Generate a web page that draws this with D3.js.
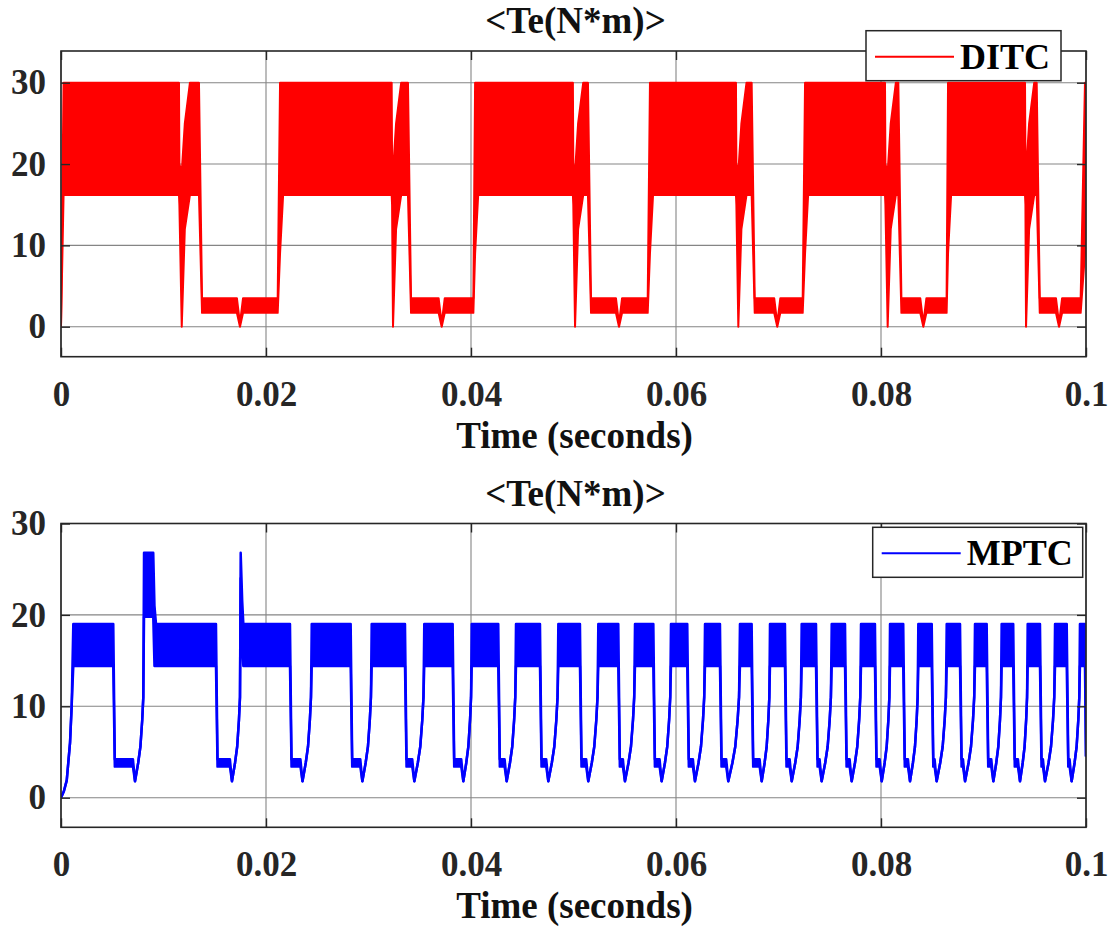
<!DOCTYPE html>
<html><head><meta charset="utf-8">
<script src="https://cdn.jsdelivr.net/npm/d3@7"></script>
<style>
body{margin:0;background:#fff;}
svg{display:block;font-family:"Liberation Serif","Times New Roman",serif;font-weight:bold;}
svg text{font-family:"Liberation Serif","Times New Roman",serif !important;font-weight:bold;}
</style></head><body>
<svg id="chart" width="1112" height="933"></svg>
<script>
// ---------- tick data ----------
const xTicks = [0, 0.02, 0.04, 0.06, 0.08, 0.1];
const xTickLabels = ["0", "0.02", "0.04", "0.06", "0.08", "0.1"];
const yTicks = [0, 10, 20, 30];
const yTickLabels = ["0", "10", "20", "30"];
const titles = ["<Te(N*m)>", "<Te(N*m)>"];
const xLabel = "Time (seconds)";
const seriesNames = ["DITC", "MPTC"];

// ---------- DITC (top) ----------
const ditcBandStart = [0.00000, 0.02137, 0.04040, 0.05746, 0.07259, 0.08654, 0.09990];
const ditcBandEnd   = [0.01151, 0.03226, 0.04994, 0.06585, 0.08039, 0.09405];
const ditcSpike     = [0.01178, 0.03239, 0.05015, 0.06608, 0.08065, 0.09415];
const ditcHumpEnd   = [0.01346, 0.03385, 0.05141, 0.06738, 0.08169, 0.09519];
const ditcLowDip    = [0.01746, 0.03714, 0.05444, 0.06988, 0.08413, 0.09737];
const ditcLowEnd    = [0.02114, 0.04023, 0.05724, 0.07236, 0.08640, 0.09948];
const ditcBandLevels = [16.2, 30];
const ditcNotchLevel = [20];
const ditcLowLevels  = [1.7, 3.5];

// ---------- MPTC (bottom) ----------
const mptcStartT = [0, 0.00028, 0.00056, 0.00088, 0.00104];
const mptcStartV = [0, 0.7, 1.9, 6, 10];
const mptcBandStart = [0.00120, 0.00927, 0.01779, 0.02446, 0.03031, 0.03544, 0.04007, 0.04439, 0.04852,
  0.05242, 0.05600, 0.05951, 0.06283, 0.06624, 0.06917, 0.07226, 0.07519, 0.07805, 0.08088, 0.08364,
  0.08641, 0.08917, 0.09177, 0.09431, 0.09698, 0.09941];
const mptcBandEnd = [0.00510, 0.01512, 0.02234, 0.02826, 0.03356, 0.03821, 0.04266, 0.04673, 0.05063,
  0.05437, 0.05779, 0.06110, 0.06429, 0.06738, 0.07063, 0.07366, 0.07649, 0.07941, 0.08217, 0.08495,
  0.08771, 0.09031, 0.09290, 0.09551, 0.09812, 0.09990];
const mptcDip = [0.00722, 0.01668, 0.02356, 0.02940, 0.03447, 0.03925, 0.04348, 0.04754, 0.05144,
  0.05502, 0.05860, 0.06185, 0.06510, 0.06836, 0.07129, 0.07421, 0.07714, 0.08007, 0.08283, 0.08543,
  0.08820, 0.09096, 0.09356, 0.09600, 0.09860];
const mptcPeakStart = [0.00810, 0.01753];
const mptcPeakEnd   = [0.00900, 0.01753];
const mptcPeakHigh  = [26.8, 26.8];
const mptcPeakLow   = [19.8, 24.0];
const mptcBandLevels = [14.4, 19.0];
const mptcStepLevels = [3.4, 4.2];
const mptcDipLevel = [1.8];
const mptcRiseFrac = [0.35, 0.6, 0.8, 0.92];
const mptcRiseVal  = [3.8, 5.6, 8.5, 11];
const mptcEndValue = [4.5];

// ---------- build envelopes [t, low, high] ----------
function buildDitc() {
  const [bl, bh] = ditcBandLevels, [ll, lh] = ditcLowLevels, nt = ditcNotchLevel[0];
  const p = [[0, 0, 0], [0.00025, bl, bh]];
  for (let i = 0; i < ditcBandEnd.length; i++) {
    if (i > 0) {
      p.push([ditcLowEnd[i - 1], ll, lh]);
      p.push([ditcBandStart[i], 9, bh]);
      p.push([ditcBandStart[i] + 0.0003, bl, bh]);
    }
    p.push([ditcBandEnd[i], bl, bh]);
    p.push([ditcBandEnd[i] + 0.00004, 15, nt]);
    p.push([ditcSpike[i], 0, nt - 1]);
    p.push([ditcSpike[i] + 0.0003, 12, 25]);
    p.push([ditcSpike[i] + 0.0008, bl, bh]);
    p.push([ditcHumpEnd[i], bl, bh]);
    p.push([ditcHumpEnd[i] + 0.0003, ll, lh]);
    p.push([ditcLowDip[i] - 0.0003, ll, lh]);
    p.push([ditcLowDip[i], 0, 0.4]);
    p.push([ditcLowDip[i] + 0.0003, ll, lh]);
  }
  p.push([ditcLowEnd[ditcLowEnd.length - 1], ll, lh]);
  p.push([ditcBandStart[ditcBandStart.length - 1], 9, bh]);
  p.push([0.1, 14, bh]);
  return p;
}

function buildMptc() {
  const [bl, bh] = mptcBandLevels, [sl, sh] = mptcStepLevels, dv = mptcDipLevel[0];
  const p = mptcStartT.map((t, i) => [t, mptcStartV[i], mptcStartV[i]]);
  for (let i = 0; i < mptcBandStart.length; i++) {
    p.push([mptcBandStart[i], bl, bh]);
    p.push([mptcBandEnd[i], bl, bh]);
    if (i < mptcDip.length) {
      const d = mptcDip[i];
      p.push([mptcBandEnd[i] + 0.00015, sl, sh]);
      p.push([d - 0.0002, sl, sh]);
      p.push([d, dv, dv]);
      const target = i < mptcPeakStart.length ? mptcPeakStart[i] : mptcBandStart[i + 1];
      const r = target - d;
      mptcRiseFrac.forEach((f, k) => p.push([d + r * f, mptcRiseVal[k], mptcRiseVal[k]]));
      if (i < mptcPeakStart.length) {
        if (mptcPeakEnd[i] > mptcPeakStart[i]) {
          p.push([mptcPeakStart[i], mptcPeakLow[i], mptcPeakHigh[i]]);
          p.push([mptcPeakEnd[i], mptcPeakLow[i], mptcPeakHigh[i]]);
          p.push([mptcPeakEnd[i] + 0.00012, bl, 21]);
        } else {
          p.push([mptcPeakStart[i], mptcPeakLow[i], mptcPeakHigh[i]]);
          p.push([mptcPeakStart[i] + 0.00015, 16, 21.5]);
        }
      }
    }
  }
  p.push([0.1, mptcEndValue[0], mptcEndValue[0]]);
  return p;
}

// ---------- layout ----------
const svg = d3.select("#chart");
const FONT = '"Liberation Serif","Times New Roman",serif';
const X0 = 61, X1 = 1086;
const panels = [
  { top: 51, bottom: 356.7, domain: [-3.69, 33.9], color: "#ff0000", lw: 2, data: buildDitc(), name: seriesNames[0], title: titles[0],
    legend: { x: 866, y: 30.7, w: 195, h: 50 } },
  { top: 523.5, bottom: 827.3, domain: [-3.24, 30], color: "#0000ff", lw: 2.5, data: buildMptc(), name: seriesNames[1], title: titles[1],
    legend: { x: 872.7, y: 527.3, w: 210, h: 50 } }
];

const x = d3.scaleLinear().domain([0, 0.1]).range([X0, X1]);

panels.forEach((P, idx) => {
  const y = d3.scaleLinear().domain(P.domain).range([P.bottom, P.top]);
  const g = svg.append("g");
  const clipId = "clip" + idx;
  svg.append("clipPath").attr("id", clipId).append("rect")
    .attr("x", X0).attr("y", P.top).attr("width", X1 - X0).attr("height", P.bottom - P.top);

  // grid
  g.append("g").selectAll("line").data(xTicks).join("line")
    .attr("x1", d => x(d)).attr("x2", d => x(d)).attr("y1", P.top).attr("y2", P.bottom)
    .attr("stroke", "#858585").attr("stroke-width", 1.1);
  g.append("g").selectAll("line").data(yTicks).join("line")
    .attr("y1", d => y(d)).attr("y2", d => y(d)).attr("x1", X0).attr("x2", X1)
    .attr("stroke", "#858585").attr("stroke-width", 1.1);

  // data
  const dg = g.append("g").attr("clip-path", `url(#${clipId})`);
  const area = d3.area().x(d => x(d[0])).y0(d => y(d[1])).y1(d => y(d[2]));
  dg.append("path").datum(P.data).attr("d", area).attr("fill", P.color);
  const lo = d3.line().x(d => x(d[0])).y(d => y(d[1]));
  const hi = d3.line().x(d => x(d[0])).y(d => y(d[2]));
  [lo, hi].forEach(l => dg.append("path").datum(P.data).attr("d", l)
    .attr("fill", "none").attr("stroke", P.color).attr("stroke-width", P.lw).attr("stroke-linejoin", "round"));

  // frame
  g.append("rect").attr("x", X0).attr("y", P.top).attr("width", X1 - X0).attr("height", P.bottom - P.top)
    .attr("fill", "none").attr("stroke", "#262626").attr("stroke-width", 1.6);

  // axes ticks (inside) + labels
  const ax = d3.axisBottom(x).tickValues(xTicks).tickFormat((d, i) => xTickLabels[i]).tickSize(-9).tickPadding(24);
  const ay = d3.axisLeft(y).tickValues(yTicks).tickFormat((d, i) => yTickLabels[i]).tickSize(-9).tickPadding(15);
  const axTop = d3.axisTop(x).tickValues(xTicks).tickFormat("").tickSize(-9);
  const ayR = d3.axisRight(y).tickValues(yTicks).tickFormat("").tickSize(-9);
  const styleAxis = sel => {
    sel.attr("font-family", FONT).attr("font-size", 35).attr("font-weight", "bold");
    sel.select(".domain").remove();
    sel.selectAll(".tick line").attr("stroke", "#262626").attr("stroke-width", 1.4);
    sel.selectAll(".tick text").attr("fill", "#262626").attr("font-family", FONT)
      .attr("font-weight", "bold").attr("font-size", 35);
  };
  g.append("g").attr("transform", `translate(0,${P.bottom})`).call(ax).call(styleAxis);
  g.append("g").attr("transform", `translate(${X0},0)`).call(ay).call(styleAxis);
  g.append("g").attr("transform", `translate(0,${P.top})`).call(axTop).call(styleAxis);
  g.append("g").attr("transform", `translate(${X1},0)`).call(ayR).call(styleAxis);

  // title and x label
  g.append("text").attr("x", (X0 + X1) / 2 + 2).attr("y", P.top - 18).attr("text-anchor", "middle")
    .attr("font-family", FONT).attr("font-size", 37).attr("fill", "#111").text(P.title);
  g.append("text").attr("x", (X0 + X1) / 2 + 1).attr("y", P.bottom + 91).attr("text-anchor", "middle")
    .attr("font-family", FONT).attr("font-size", 37).attr("fill", "#111").text(xLabel);

  // legend
  const L = P.legend;
  const lg = g.append("g");
  lg.append("rect").attr("x", L.x).attr("y", L.y).attr("width", L.w).attr("height", L.h)
    .attr("fill", "#fff").attr("stroke", "#262626").attr("stroke-width", 1.5);
  lg.append("line").attr("x1", L.x + 9).attr("x2", L.x + 88).attr("y1", L.y + L.h / 2 + 1).attr("y2", L.y + L.h / 2 + 1)
    .attr("stroke", P.color).attr("stroke-width", 2);
  lg.append("text").attr("x", L.x + 94).attr("y", L.y + L.h / 2 + 13)
    .attr("font-family", FONT).attr("font-size", 36).attr("fill", "#000").text(P.name);
});
</script>
</body></html>
